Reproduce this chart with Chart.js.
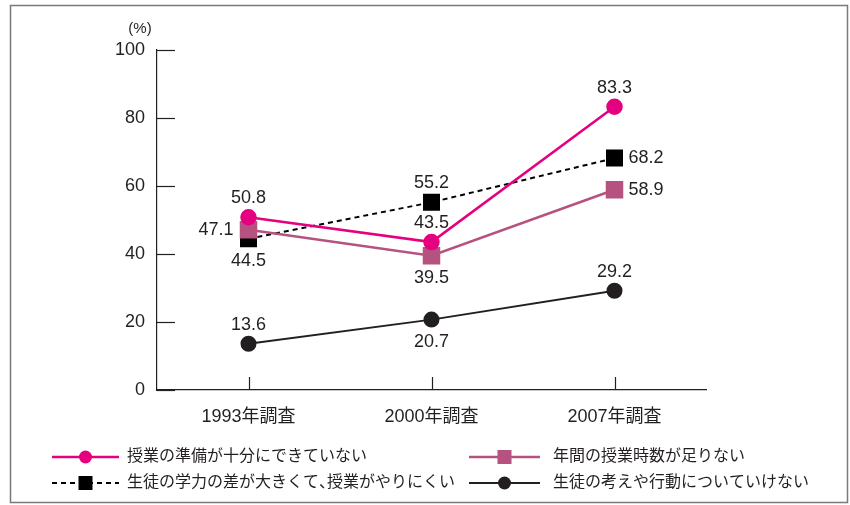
<!DOCTYPE html>
<html lang="ja">
<head>
  <meta charset="UTF-8">
  <title>教員の悩み</title>
  <script src="https://cdn.jsdelivr.net/npm/chart.js"></script>
  <style>
    body { margin: 0; background: #fff; }
    #wrap { width: 850px; height: 505px; }
  </style>
</head>
<body>
  <div id="wrap"><canvas id="c" width="850" height="505"></canvas></div>
  <script>
    const categories = ['1993年調査', '2000年調査', '2007年調査'];
    const seriesNames = [
      '授業の準備が十分にできていない',
      '年間の授業時数が足りない',
      '生徒の学力の差が大きくて、授業がやりにくい',
      '生徒の考えや行動についていけない'
    ];
    const junbi = [50.8, 43.5, 83.3];
    const jisuu = [47.1, 39.5, 58.9];
    const gakuryoku = [44.5, 55.2, 68.2];
    const kangae = [13.6, 20.7, 29.2];
    const yTicks = [0, 20, 40, 60, 80, 100];

    // where each value label sits relative to its point
    const labelPos = [
      ['top', 'top', 'top'],
      ['left', 'bottom', 'right'],
      ['bottom', 'top', 'right'],
      ['top', 'bottom', 'top']
    ];

    const INK = '#231f20';
    const FONT = "'Liberation Sans', 'Noto Sans CJK JP', sans-serif";

    // draw text, squeezing the ideographic comma to half width
    function drawJa(ctx, text, x, y) {
      let cx = x;
      for (const ch of text) {
        ctx.fillText(ch, cx, y);
        const w = ctx.measureText(ch).width;
        cx += ch === '、' ? w * 0.5 : w;
      }
    }

    const frame = {
      id: 'frame',
      beforeDraw(chart) {
        const ctx = chart.ctx;
        ctx.save();
        ctx.strokeStyle = '#7a7a7a';
        ctx.lineWidth = 1.5;
        ctx.strokeRect(10.5, 5.5, 837, 497);
        ctx.restore();
      },
      afterDraw(chart) {
        const ctx = chart.ctx;
        const area = chart.chartArea;
        const y = chart.scales.y, x = chart.scales.x;
        ctx.save();
        ctx.strokeStyle = INK;
        ctx.lineWidth = 1.2;
        // inward tick marks
        yTicks.forEach(v => {
          const py = Math.round(y.getPixelForValue(v)) + 0.5;
          ctx.beginPath();
          ctx.moveTo(area.left, py);
          ctx.lineTo(area.left + 18, py);
          ctx.stroke();
        });
        categories.forEach((c, i) => {
          const px = Math.round(x.getPixelForValue(i)) + 0.5;
          ctx.beginPath();
          ctx.moveTo(px, area.bottom);
          ctx.lineTo(px, area.bottom - 13);
          ctx.stroke();
        });
        // unit
        ctx.fillStyle = INK;
        ctx.font = '15px ' + FONT;
        ctx.textAlign = 'center';
        ctx.textBaseline = 'middle';
        ctx.fillText('(%)', 140, 29);

        // value labels
        ctx.font = '18px ' + FONT;
        chart.data.datasets.forEach((ds, di) => {
          const meta = chart.getDatasetMeta(di);
          meta.data.forEach((pt, i) => {
            const pos = labelPos[di][i];
            let tx = pt.x, ty = pt.y;
            if (pos === 'top') { ty -= 19; ctx.textAlign = 'center'; }
            else if (pos === 'bottom') { ty += 22; ctx.textAlign = 'center'; }
            else if (pos === 'left') { tx -= 15; ctx.textAlign = 'right'; }
            else { tx += 14; ctx.textAlign = 'left'; }
            ctx.fillText(ds.data[i].toFixed(1), tx, ty);
          });
        });

        // legend, two columns
        const cols = [{ x0: 52, x1: 119, tx: 127 }, { x0: 469, x1: 540, tx: 553 }];
        const rows = [457, 483];
        chart.data.datasets.forEach((ds, di) => {
          const c = cols[di % 2], ry = rows[Math.floor(di / 2)];
          ctx.save();
          ctx.strokeStyle = ds.borderColor;
          ctx.lineWidth = ds.borderWidth;
          ctx.setLineDash(ds.borderDash || []);
          ctx.beginPath();
          ctx.moveTo(c.x0, ry);
          ctx.lineTo(c.x1, ry);
          ctx.stroke();
          ctx.restore();
          const mx = (c.x0 + c.x1) / 2;
          ctx.fillStyle = ds.pointBackgroundColor;
          if (ds.pointStyle === 'rect') {
            ctx.fillRect(mx - 7, ry - 7, 14, 14);
          } else {
            ctx.beginPath();
            ctx.arc(mx, ry, 6.5, 0, Math.PI * 2);
            ctx.fill();
          }
          ctx.fillStyle = INK;
          ctx.font = '16px ' + FONT;
          ctx.textAlign = 'left';
          ctx.textBaseline = 'middle';
          drawJa(ctx, seriesNames[di], c.tx, ry);
        });
        ctx.restore();
      }
    };

    function line(name, data, color, style, dash, radius, width) {
      return {
        label: name,
        data: data,
        borderColor: color,
        backgroundColor: color,
        pointBackgroundColor: color,
        pointBorderColor: color,
        pointStyle: style,
        pointRadius: radius,
        pointHoverRadius: radius,
        borderWidth: width,
        borderDash: dash,
        tension: 0
      };
    }

    new Chart(document.getElementById('c'), {
      type: 'line',
      data: {
        labels: categories,
        datasets: [
          line(seriesNames[0], junbi, '#e4007f', 'circle', [], 7, 2.5),
          line(seriesNames[1], jisuu, '#b5527f', 'rect', [], 10.6, 2.5),
          line(seriesNames[2], gakuryoku, '#000000', 'rect', [5, 4], 10.6, 2),
          line(seriesNames[3], kangae, INK, 'circle', [], 7, 2)
        ]
      },
      options: {
        responsive: false,
        animation: false,
        events: [],
        layout: { padding: { left: 0, top: 50, right: 144, bottom: 75 } },
        plugins: { legend: { display: false }, tooltip: { enabled: false } },
        scales: {
          x: {
            offset: true,
            grid: { display: false },
            border: { display: true, color: INK, width: 1.2 },
            ticks: { color: INK, font: { size: 18, family: FONT }, padding: 8, maxRotation: 0 },
            afterFit: s => { s.height = 40; }
          },
          y: {
            min: 0,
            max: 100,
            grid: { display: false },
            border: { display: true, color: INK, width: 1.2 },
            ticks: { stepSize: 20, color: INK, font: { size: 18, family: FONT }, padding: 4 },
            afterFit: s => { s.width = 157; }
          }
        }
      },
      plugins: [frame]
    });
  </script>
</body>
</html>
